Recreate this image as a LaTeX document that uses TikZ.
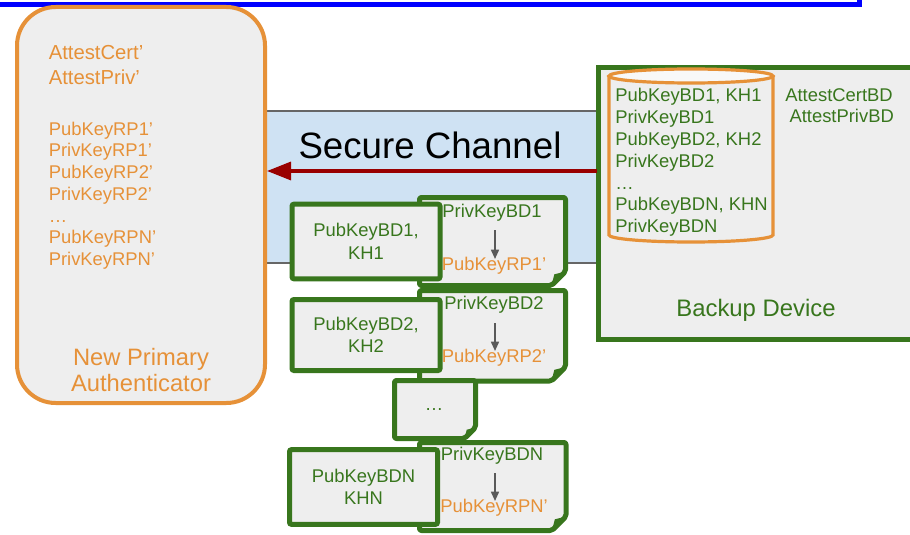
\documentclass[tikz,border=0pt]{standalone}
\usepackage{fontspec}
\setmainfont{Liberation Sans}
\usetikzlibrary{arrows.meta}

\definecolor{fidoorange}{HTML}{E69138}
\definecolor{fidogreen}{HTML}{38761D}
\definecolor{panelgray}{HTML}{EEEEEE}
\definecolor{channelblue}{HTML}{CFE2F3}
\definecolor{channeledge}{HTML}{666666}
\definecolor{arrowred}{HTML}{990000}
\definecolor{arrowgray}{HTML}{595959}

\tikzset{
  % one unit = one pixel of the 910 x 535 canvas, y grows downwards
  x=0.75pt, y=-0.75pt,
  keybox/.style={draw=fidogreen, fill=panelgray, line width=3.75pt,
    rounded corners=1.5pt, inner sep=0pt},
  docshape/.style={draw=fidogreen, fill=panelgray, line width=3.75pt,
    rounded corners=1.5pt, line join=round},
  foldmark/.style={fill=fidogreen},
  greentxt/.style={text=fidogreen, font=\fontsize{13.8}{16}\selectfont, inner sep=0pt},
  orangetxt/.style={text=fidoorange, font=\fontsize{13.8}{16}\selectfont, inner sep=0pt},
  derive/.style={draw=arrowgray, line width=1.2pt,
    -{Triangle[length=7pt, width=6pt]}},
}

% folded document outline: #1,#2 top-left, #3,#4 bottom-right, #5 fold size
\newcommand{\foldeddoc}[5]{%
  \path[docshape] (#1,#2) -- (#3,#2) -- (#3,#4-#5) -- (#3-#5,#4) -- (#1,#4) -- cycle;
  \fill[foldmark] (#3,#4-#5) -- (#3-#5,#4) -- (#3-0.8*#5,#4-0.8*#5) -- cycle;
}

\begin{document}
\begin{tikzpicture}
\clip (0,0) rectangle (910,535);
\fill[white] (0,0) rectangle (910,535);

% lower edge of the heading frame
\draw[blue, line width=3.75pt] (-20,-40) rectangle (859.5,4.5);

% secure channel band
\fill[channelblue] (240,111) rectangle (620,263);
\draw[channeledge, line width=1.2pt] (240,111) -- (620,111) (240,263) -- (620,263);
\node[font=\fontsize{27.5}{30}\selectfont, inner sep=0pt] (chan) at (430,145) {Secure Channel};

% new primary authenticator
\node[draw=fidoorange, fill=panelgray, line width=3pt, rounded corners=29pt,
      minimum width=186pt, minimum height=297pt, inner sep=0pt] (npa) at (141,205) {};
\node[orangetxt, font=\fontsize{15.2}{18.75}\selectfont, align=left, anchor=north west]
  (npaattest) at (48.5,45.5) {AttestCert’\\AttestPriv’};
\node[orangetxt, font=\fontsize{13.8}{16.3}\selectfont, align=left, anchor=north west]
  (npakeys) at (48.5,121.5) {PubKeyRP1’\\PrivKeyRP1’\\PubKeyRP2’\\PrivKeyRP2’\\…\\PubKeyRPN’\\PrivKeyRPN’};
\node[orangetxt, font=\fontsize{17.8}{19.8}\selectfont, align=center]
  (npaname) at (141,370) {New Primary\\Authenticator};

% backup device
\node[draw=fidogreen, fill=panelgray, line width=3.5pt, minimum width=255pt,
      minimum height=204pt, inner sep=0pt, anchor=north west] (bd) at (596,65) {};
\node[greentxt, font=\fontsize{17.9}{20}\selectfont] (bdname) at (756,310) {Backup Device};
\node[greentxt, align=center] (bdattest) at (839,105.5)
  {AttestCertBD\\\hspace*{4pt}AttestPrivBD};

% key store cylinder
\fill[panelgray] (609,76) -- (609,235) arc[start angle=180, end angle=0, x radius=82, y radius=7]
  -- (773,76) -- cycle;
\draw[fidoorange, line width=2.4pt] (609,76) -- (609,235)
  arc[start angle=180, end angle=0, x radius=82, y radius=7] -- (773,76);
\fill[white!60!panelgray] (691,76) ellipse[x radius=82, y radius=7];
\draw[fidoorange, line width=2.4pt] (691,76) ellipse[x radius=82, y radius=7];
\node[greentxt, font=\fontsize{13.8}{16.4}\selectfont, align=left, anchor=north west]
  (store) at (615,88) {PubKeyBD1, KH1\\PrivKeyBD1\\PubKeyBD2, KH2\\PrivKeyBD2\\…\\PubKeyBDN, KHN\\PrivKeyBDN};

% transfer arrow
\coordinate (chanfrom) at (597,171);
\coordinate (chanto) at (267,171);
\draw[arrowred, line width=2.4pt, -{Triangle[length=18pt, width=13.5pt]}] (chanfrom) -- (chanto);

% wrapped key 1
\foldeddoc{419.5}{197.5}{565.5}{285.5}{14}
\node[greentxt] (priv1) at (492,213) {PrivKeyBD1};
\node[orangetxt] (rp1) at (494,266) {PubKeyRP1’};
\coordinate (d1a) at (495,230);
\coordinate (d1b) at (495,259);
\draw[derive] (d1a) -- (d1b);
\node[keybox, minimum width=111pt, minimum height=56pt, align=center,
      text=fidogreen, font=\fontsize{13.8}{16.8}\selectfont] (pub1) at (366,241.5) {PubKeyBD1,\\KH1};

% wrapped key 2
\foldeddoc{419.5}{290.5}{565.5}{381}{14}
\node[greentxt] (priv2) at (494,305) {PrivKeyBD2};
\node[orangetxt] (rp2) at (494,358) {PubKeyRP2’};
\coordinate (d2a) at (495,323);
\coordinate (d2b) at (495,351);
\draw[derive] (d2a) -- (d2b);
\node[keybox, minimum width=111pt, minimum height=53.25pt, align=center,
      text=fidogreen, font=\fontsize{13.8}{16.8}\selectfont] (pub2) at (366,335) {PubKeyBD2,\\KH2};

% elided keys
\foldeddoc{394.5}{380.5}{475.5}{438.5}{11}
\node[greentxt] (more) at (434,410) {…};

% wrapped key N
\foldeddoc{419.5}{442.5}{566}{530.5}{14}
\node[greentxt] (privn) at (492,456) {PrivKeyBDN};
\node[orangetxt] (rpn) at (494,508) {PubKeyRPN’};
\coordinate (dna) at (495,473);
\coordinate (dnb) at (495,501);
\draw[derive] (dna) -- (dnb);
\node[keybox, minimum width=111pt, minimum height=56pt, align=center,
      text=fidogreen, font=\fontsize{13.8}{16.8}\selectfont] (pubn) at (363.5,487) {PubKeyBDN\\KHN};
\end{tikzpicture}
\end{document}
